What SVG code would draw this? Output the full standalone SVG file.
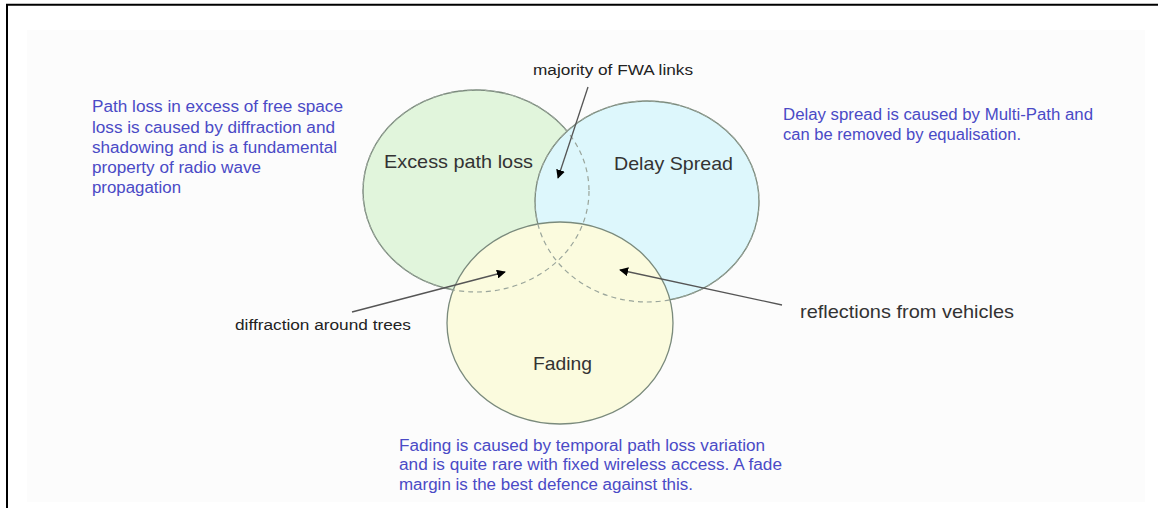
<svg xmlns="http://www.w3.org/2000/svg" width="1158" height="508" viewBox="0 0 1158 508">
<style>
.note{font-family:"Liberation Sans",Arial,sans-serif;font-size:16px;fill:#4a4ac6}
.lbl{font-family:"Liberation Sans",Arial,sans-serif;fill:#333}
.big{font-size:19px}
.small{font-size:14px;fill:#222}
.ring{stroke:#7a8a7c;stroke-width:1.3}
.ghost{fill:none;stroke:#9aa59b;stroke-width:1.2;stroke-dasharray:5 4}
.conn{stroke:#555;stroke-width:1.3;fill:none;marker-end:url(#ah)}
</style>
<defs>
<marker id="ah" viewBox="0 0 10 10" refX="9" refY="5" markerWidth="9" markerHeight="9" markerUnits="userSpaceOnUse" orient="auto">
<path d="M0,0 L10,5 L0,10 z" fill="#000"/>
</marker>
</defs>
<rect x="0" y="0" width="1158" height="508" fill="#fff"/>
<rect x="27" y="30" width="1118" height="472" fill="#fcfcfc"/>
<path d="M7,508 V4.8 H1158" fill="none" stroke="#000" stroke-width="2"/>

<g id="excess-path-loss">
<ellipse cx="476" cy="191" rx="113" ry="101" fill="#e1f5dc" class="ring"/>
</g>
<g id="delay-spread">
<ellipse cx="647" cy="201.5" rx="112" ry="100.5" fill="#ddf7fc" class="ring"/>
</g>
<g id="fading">
<ellipse cx="560" cy="323" rx="113" ry="101" fill="#fbfbde" class="ring"/>
</g>
<g id="ghost-outlines">
<ellipse cx="476" cy="191" rx="113" ry="101" class="ghost"/>
<ellipse cx="647" cy="201.5" rx="112" ry="100.5" class="ghost"/>
</g>

<g id="labels">
<text class="lbl big" x="384" y="168" textLength="149" lengthAdjust="spacingAndGlyphs">Excess path loss</text>
<text class="lbl big" x="614" y="170" textLength="119" lengthAdjust="spacingAndGlyphs">Delay Spread</text>
<text class="lbl big" x="533" y="370" textLength="59" lengthAdjust="spacingAndGlyphs">Fading</text>
</g>

<g id="connectors">
<line class="conn" x1="588" y1="87" x2="558" y2="178"/>
<line class="conn" x1="352" y1="312" x2="505" y2="272"/>
<line class="conn" x1="782" y1="305" x2="620" y2="270"/>
</g>

<g id="majority-label">
<text class="lbl small" x="533" y="75" textLength="160" lengthAdjust="spacingAndGlyphs">majority of FWA links</text>
</g>
<g id="diffraction-label">
<text class="lbl small" x="235" y="330" textLength="176" lengthAdjust="spacingAndGlyphs">diffraction around trees</text>
</g>
<g id="reflections-label">
<text class="lbl" style="font-size:19px" x="800" y="318" textLength="214" lengthAdjust="spacingAndGlyphs">reflections from vehicles</text>
</g>

<g id="note-path-loss">
<text class="note" x="92" y="112" textLength="251" lengthAdjust="spacingAndGlyphs">Path loss in excess of free space</text>
<text class="note" x="92" y="133" textLength="243" lengthAdjust="spacingAndGlyphs">loss is caused by diffraction and</text>
<text class="note" x="92" y="153" textLength="245" lengthAdjust="spacingAndGlyphs">shadowing and is a fundamental</text>
<text class="note" x="92" y="173" textLength="169" lengthAdjust="spacingAndGlyphs">property of radio wave</text>
<text class="note" x="92" y="193" textLength="89" lengthAdjust="spacingAndGlyphs">propagation</text>
</g>
<g id="note-delay-spread">
<text class="note" x="783" y="120" textLength="310" lengthAdjust="spacingAndGlyphs">Delay spread is caused by Multi-Path and</text>
<text class="note" x="783" y="140" textLength="238" lengthAdjust="spacingAndGlyphs">can be removed by equalisation.</text>
</g>
<g id="note-fading">
<text class="note" x="399" y="451" textLength="366" lengthAdjust="spacingAndGlyphs">Fading is caused by temporal path loss variation</text>
<text class="note" x="399" y="470" textLength="383" lengthAdjust="spacingAndGlyphs">and is quite rare with fixed wireless access. A fade</text>
<text class="note" x="399" y="490" textLength="294" lengthAdjust="spacingAndGlyphs">margin is the best defence against this.</text>
</g>
</svg>
